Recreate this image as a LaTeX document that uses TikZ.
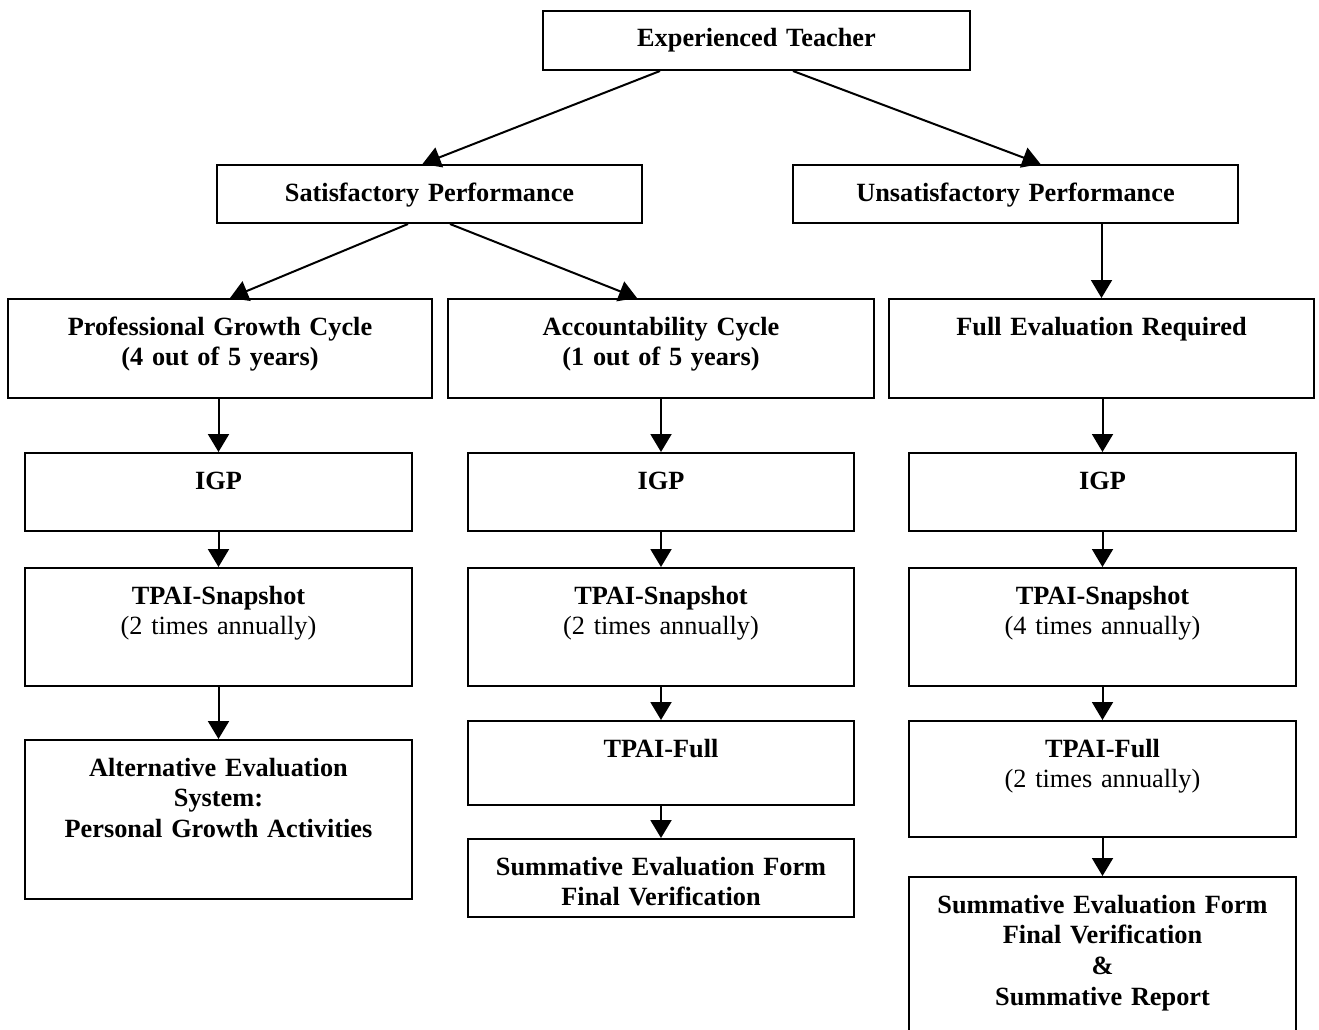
\documentclass[tikz,border=0pt]{standalone}
\usepackage{fontspec}
\setmainfont{Liberation Serif}
\usetikzlibrary{arrows.meta}
\begin{document}
\begin{tikzpicture}[x=1pt,y=-1pt,
  stage/.style={draw, line width=2pt, anchor=north, align=center,
    inner xsep=0pt, inner ysep=0pt, text height=36pt,
    font=\fontsize{26.3}{30.8}\selectfont\bfseries},
  flow/.style={line width=2pt, -{Triangle[width=21pt,length=18pt]}}]
\clip (0,0) rectangle (1319,1030);
\fill[white] (0,0) rectangle (1319,1030);

% top levels
\node[stage, text width=427pt, text depth=23pt] (et) at (756.5,10) {Experienced Teacher};
\node[stage, text width=425pt, text depth=22pt] (sat) at (429.5,164) {Satisfactory Performance};
\node[stage, text width=445pt, text depth=22pt] (unsat) at (1015.5,164) {Unsatisfactory Performance};

% cycles
\node[stage, text width=424pt, text depth=63pt] (pgc) at (220,298) {Professional Growth Cycle\\(4 out of 5 years)};
\node[stage, text width=426pt, text depth=63pt] (acc) at (661,298) {Accountability Cycle\\(1 out of 5 years)};
\node[stage, text width=425pt, text depth=63pt] (full) at (1101.5,298) {Full Evaluation Required};

% IGP row
\node[stage, text width=387pt, text depth=42pt] (igpA) at (218.5,452) {IGP};
\node[stage, text width=386pt, text depth=42pt] (igpB) at (661,452) {IGP};
\node[stage, text width=387pt, text depth=42pt] (igpC) at (1102.5,452) {IGP};

% snapshot row
\node[stage, text width=387pt, text depth=82pt] (snapA) at (218.5,567) {TPAI-Snapshot\\{\mdseries (2 times annually)}};
\node[stage, text width=386pt, text depth=82pt] (snapB) at (661,567) {TPAI-Snapshot\\{\mdseries (2 times annually)}};
\node[stage, text width=387pt, text depth=82pt] (snapC) at (1102.5,567) {TPAI-Snapshot\\{\mdseries (4 times annually)}};

% lower boxes
\node[stage, text width=387pt, text depth=123pt] (alt) at (218.5,739) {Alternative Evaluation\\System:\\Personal Growth Activities};
\node[stage, text width=386pt, text depth=48pt] (fullB) at (661,720) {TPAI-Full};
\node[stage, text width=387pt, text depth=80pt] (fullC) at (1102.5,720) {TPAI-Full\\{\mdseries (2 times annually)}};
\node[stage, text width=386pt, text depth=42pt] (sumB) at (661,838) {Summative Evaluation Form\\Final Verification};
\node[stage, text width=387pt, text depth=124pt] (sumC) at (1102.5,876) {Summative Evaluation Form\\Final Verification\\\&\\Summative Report};

% branching connectors
\draw[flow] ([xshift=-96.5pt]et.south) -- ([xshift=-7pt]sat.north);
\draw[flow] ([xshift=36.5pt]et.south) -- ([xshift=25pt]unsat.north);
\draw[flow] ([xshift=-21.5pt]sat.south) -- ([xshift=10pt]pgc.north);
\draw[flow] ([xshift=20.5pt]sat.south) -- ([xshift=-24pt]acc.north);
\draw[flow] (full.north |- unsat.south) -- (full.north);

% left column
\draw[flow] (igpA.north |- pgc.south) -- (igpA.north);
\draw[flow] (igpA.south) -- (snapA.north);
\draw[flow] (snapA.south) -- (alt.north);

% middle column
\draw[flow] (igpB.north |- acc.south) -- (igpB.north);
\draw[flow] (igpB.south) -- (snapB.north);
\draw[flow] (snapB.south) -- (fullB.north);
\draw[flow] (fullB.south) -- (sumB.north);

% right column
\draw[flow] (igpC.north |- full.south) -- (igpC.north);
\draw[flow] (igpC.south) -- (snapC.north);
\draw[flow] (snapC.south) -- (fullC.north);
\draw[flow] (fullC.south) -- (sumC.north);
\end{tikzpicture}
\end{document}
